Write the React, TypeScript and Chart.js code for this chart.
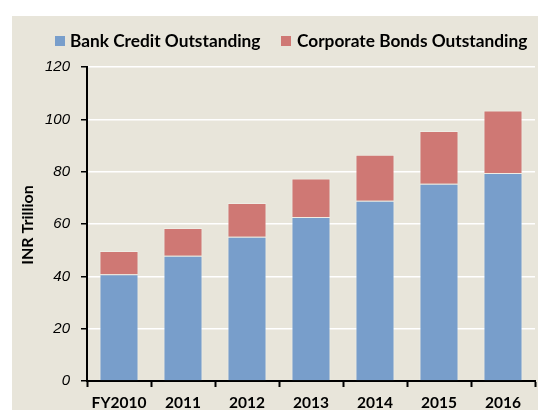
import React, { useEffect, useRef } from "react";
import { Chart, registerables } from "chart.js";

Chart.register(...registerables);

const categories = ["FY2010", "2011", "2012", "2013", "2014", "2015", "2016"];
const bankCredit = [40.8, 47.9, 55.1, 62.7, 68.9, 75.4, 79.5];
const corporateBonds = [8.9, 10.6, 12.9, 14.7, 17.6, 20.1, 23.9];
const seriesNames = ["Bank Credit Outstanding", "Corporate Bonds Outstanding"];
const seriesColors = ["#789ECB", "#CF7874"];
const yTitle = "INR Trillion";

const BG = "#E8E5DA";
const FONT = "Lato, 'Open Sans', sans-serif";

const decorPlugin = {
  id: "decor",
  beforeDraw(chart: any) {
    const ctx = chart.ctx;
    ctx.save();
    ctx.fillStyle = "#FFFFFF";
    ctx.fillRect(0, 0, chart.width, chart.height);
    ctx.fillStyle = BG;
    ctx.fillRect(12, 16, chart.width - 12, chart.height - 16);
    ctx.restore();
  },
  afterDraw(chart: any) {
    const ctx = chart.ctx;
    ctx.save();
    // legend
    ctx.font = `bold 17.3px ${FONT}`;
    ctx.textBaseline = "middle";
    ctx.textAlign = "left";
    const items = [
      { bx: 55, tx: 70 },
      { bx: 281, tx: 297 },
    ];
    items.forEach((it, i) => {
      ctx.fillStyle = seriesColors[i];
      ctx.fillRect(it.bx, 36, 10, 10);
      ctx.fillStyle = "#000000";
      ctx.fillText(seriesNames[i], it.tx, 41);
    });
    // y title
    ctx.translate(28, 225);
    ctx.rotate(-Math.PI / 2);
    ctx.textAlign = "center";
    ctx.font = `bold 16px ${FONT}`;
    ctx.fillText(yTitle, 0, 0);
    ctx.restore();
  },
};

export default function App() {
  const ref = useRef<HTMLCanvasElement | null>(null);
  useEffect(() => {
    if (!ref.current) return;
    const chart = new Chart(ref.current, {
      type: "bar",
      data: {
        labels: categories,
        datasets: [
          {
            label: seriesNames[0],
            data: bankCredit,
            backgroundColor: seriesColors[0],
            borderColor: "rgba(255,255,255,0.3)",
            borderWidth: 1,
            barPercentage: 0.61,
            categoryPercentage: 1,
          },
          {
            label: seriesNames[1],
            data: corporateBonds,
            backgroundColor: seriesColors[1],
            borderColor: "rgba(255,255,255,0.3)",
            borderWidth: 1,
            barPercentage: 0.61,
            categoryPercentage: 1,
          },
        ],
      },
      options: {
        animation: false,
        responsive: false,
        maintainAspectRatio: false,
        layout: { padding: { left: 0, right: 3, top: 67, bottom: 0 } },
        plugins: {
          legend: { display: false },
          tooltip: { enabled: false },
        },
        scales: {
          x: {
            stacked: true,
            border: { display: true, color: "#000000", width: 2 },
            grid: {
              display: true,
              drawOnChartArea: false,
              drawTicks: true,
              tickColor: "#000000",
              tickLength: 6,
              tickWidth: 2,
              offset: true,
            },
            ticks: {
              color: "#000000",
              font: { family: FONT, size: 15.5, weight: "bold" },
              padding: 7,
              maxRotation: 0,
              autoSkip: false,
            },
            afterFit(scale: any) {
              scale.height = 29;
            },
          },
          y: {
            stacked: true,
            min: 0,
            max: 120,
            border: { display: true, color: "#000000", width: 2 },
            grid: {
              color: "#FFFFFF",
              lineWidth: 1.5,
              drawTicks: true,
              tickColor: "#000000",
              tickLength: 6,
              tickWidth: 1.5,
            },
            ticks: {
              stepSize: 20,
              color: "#000000",
              font: { family: "'Liberation Sans', Arial, sans-serif", size: 15, style: "italic" },
              padding: 11,
            },
            afterFit(scale: any) {
              scale.width = 87;
            },
          },
        },
      },
      plugins: [decorPlugin],
    });
    return () => chart.destroy();
  }, []);
  return (
    <div style={{ position: "fixed", left: 0, top: 0, width: 538, height: 410 }}>
      <canvas ref={ref} width={538} height={410} style={{ display: "block" }} />
    </div>
  );
}
